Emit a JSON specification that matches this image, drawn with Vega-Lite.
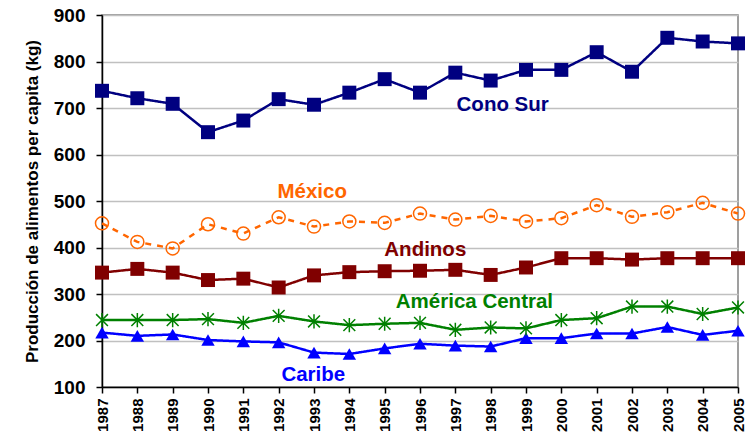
{
  "$schema": "https://vega.github.io/schema/vega-lite/v6.json",
  "width": 636,
  "height": 372,
  "autosize": "none",
  "padding": {"left": 102, "top": 15, "right": 14, "bottom": 49},
  "background": "white",
  "config": {
    "view": {"stroke": "#808080", "strokeWidth": 1.5},
    "font": "Liberation Sans"
  },
  "datasets": {
    "pts": [
      {"series": "Cono Sur", "year": 1987, "value": 737},
      {"series": "Cono Sur", "year": 1988, "value": 721},
      {"series": "Cono Sur", "year": 1989, "value": 709},
      {"series": "Cono Sur", "year": 1990, "value": 648},
      {"series": "Cono Sur", "year": 1991, "value": 673},
      {"series": "Cono Sur", "year": 1992, "value": 719},
      {"series": "Cono Sur", "year": 1993, "value": 707},
      {"series": "Cono Sur", "year": 1994, "value": 733},
      {"series": "Cono Sur", "year": 1995, "value": 762},
      {"series": "Cono Sur", "year": 1996, "value": 733},
      {"series": "Cono Sur", "year": 1997, "value": 776},
      {"series": "Cono Sur", "year": 1998, "value": 759},
      {"series": "Cono Sur", "year": 1999, "value": 782},
      {"series": "Cono Sur", "year": 2000, "value": 782},
      {"series": "Cono Sur", "year": 2001, "value": 820},
      {"series": "Cono Sur", "year": 2002, "value": 778},
      {"series": "Cono Sur", "year": 2003, "value": 851},
      {"series": "Cono Sur", "year": 2004, "value": 843},
      {"series": "Cono Sur", "year": 2005, "value": 839},
      {"series": "México", "year": 1987, "value": 452},
      {"series": "México", "year": 1988, "value": 412},
      {"series": "México", "year": 1989, "value": 398},
      {"series": "México", "year": 1990, "value": 450},
      {"series": "México", "year": 1991, "value": 430},
      {"series": "México", "year": 1992, "value": 465},
      {"series": "México", "year": 1993, "value": 445},
      {"series": "México", "year": 1994, "value": 456},
      {"series": "México", "year": 1995, "value": 453},
      {"series": "México", "year": 1996, "value": 473},
      {"series": "México", "year": 1997, "value": 460},
      {"series": "México", "year": 1998, "value": 468},
      {"series": "México", "year": 1999, "value": 456},
      {"series": "México", "year": 2000, "value": 463},
      {"series": "México", "year": 2001, "value": 491},
      {"series": "México", "year": 2002, "value": 466},
      {"series": "México", "year": 2003, "value": 476},
      {"series": "México", "year": 2004, "value": 496},
      {"series": "México", "year": 2005, "value": 473},
      {"series": "Andinos", "year": 1987, "value": 346},
      {"series": "Andinos", "year": 1988, "value": 354},
      {"series": "Andinos", "year": 1989, "value": 346},
      {"series": "Andinos", "year": 1990, "value": 330},
      {"series": "Andinos", "year": 1991, "value": 333},
      {"series": "Andinos", "year": 1992, "value": 314},
      {"series": "Andinos", "year": 1993, "value": 340},
      {"series": "Andinos", "year": 1994, "value": 347},
      {"series": "Andinos", "year": 1995, "value": 349},
      {"series": "Andinos", "year": 1996, "value": 350},
      {"series": "Andinos", "year": 1997, "value": 352},
      {"series": "Andinos", "year": 1998, "value": 341},
      {"series": "Andinos", "year": 1999, "value": 357},
      {"series": "Andinos", "year": 2000, "value": 377},
      {"series": "Andinos", "year": 2001, "value": 377},
      {"series": "Andinos", "year": 2002, "value": 374},
      {"series": "Andinos", "year": 2003, "value": 377},
      {"series": "Andinos", "year": 2004, "value": 377},
      {"series": "Andinos", "year": 2005, "value": 377},
      {"series": "América Central", "year": 1987, "value": 244},
      {"series": "América Central", "year": 1988, "value": 244},
      {"series": "América Central", "year": 1989, "value": 244},
      {"series": "América Central", "year": 1990, "value": 246},
      {"series": "América Central", "year": 1991, "value": 238},
      {"series": "América Central", "year": 1992, "value": 253},
      {"series": "América Central", "year": 1993, "value": 241},
      {"series": "América Central", "year": 1994, "value": 233},
      {"series": "América Central", "year": 1995, "value": 236},
      {"series": "América Central", "year": 1996, "value": 238},
      {"series": "América Central", "year": 1997, "value": 223},
      {"series": "América Central", "year": 1998, "value": 228},
      {"series": "América Central", "year": 1999, "value": 226},
      {"series": "América Central", "year": 2000, "value": 244},
      {"series": "América Central", "year": 2001, "value": 248},
      {"series": "América Central", "year": 2002, "value": 273},
      {"series": "América Central", "year": 2003, "value": 273},
      {"series": "América Central", "year": 2004, "value": 257},
      {"series": "América Central", "year": 2005, "value": 271},
      {"series": "Caribe", "year": 1987, "value": 217},
      {"series": "Caribe", "year": 1988, "value": 210},
      {"series": "Caribe", "year": 1989, "value": 213},
      {"series": "Caribe", "year": 1990, "value": 201},
      {"series": "Caribe", "year": 1991, "value": 198},
      {"series": "Caribe", "year": 1992, "value": 196},
      {"series": "Caribe", "year": 1993, "value": 174},
      {"series": "Caribe", "year": 1994, "value": 171},
      {"series": "Caribe", "year": 1995, "value": 183},
      {"series": "Caribe", "year": 1996, "value": 193},
      {"series": "Caribe", "year": 1997, "value": 189},
      {"series": "Caribe", "year": 1998, "value": 187},
      {"series": "Caribe", "year": 1999, "value": 205},
      {"series": "Caribe", "year": 2000, "value": 205},
      {"series": "Caribe", "year": 2001, "value": 215},
      {"series": "Caribe", "year": 2002, "value": 215},
      {"series": "Caribe", "year": 2003, "value": 229},
      {"series": "Caribe", "year": 2004, "value": 212},
      {"series": "Caribe", "year": 2005, "value": 221}
    ],
    "labels": [
      {"series": "Cono Sur", "year": 1998.34, "value": 707},
      {"series": "México", "year": 1992.95, "value": 520},
      {"series": "Andinos", "year": 1996.15, "value": 394},
      {"series": "América Central", "year": 1997.54, "value": 283},
      {"series": "Caribe", "year": 1992.98, "value": 126}
    ]
  },
  "encoding": {
    "x": {
      "field": "year", "type": "quantitative",
      "scale": {"domain": [1987, 2005], "nice": false, "zero": false},
      "axis": {
        "values": [1987,1988,1989,1990,1991,1992,1993,1994,1995,1996,1997,1998,1999,2000,2001,2002,2003,2004,2005],
        "format": "d", "labelAngle": -90, "grid": false, "title": null,
        "labelFont": "Liberation Sans", "labelFontWeight": "bold", "labelFontSize": 15, "labelColor": "black",
        "labelPadding": 5, "tickSize": 6, "tickColor": "black", "tickWidth": 1.5,
        "domainColor": "black", "domainWidth": 1.5, "labelOverlap": false
      }
    },
    "y": {
      "field": "value", "type": "quantitative",
      "scale": {"domain": [100, 900], "nice": false, "zero": false},
      "axis": {
        "values": [100,200,300,400,500,600,700,800,900],
        "grid": true, "gridColor": "#c0c0c0", "gridWidth": 1.5,
        "title": "Producción de alimentos per capita (kg)",
        "titleFont": "Liberation Sans", "titleFontWeight": "bold", "titleFontSize": 17, "titleColor": "black",
        "titlePadding": 12,
        "labelFont": "Liberation Sans", "labelFontWeight": "bold", "labelFontSize": 19, "labelColor": "black",
        "labelPadding": 11, "tickSize": 6, "tickColor": "black", "tickWidth": 1.5,
        "domainColor": "black", "domainWidth": 1.5
      }
    },
    "color": {
      "field": "series", "type": "nominal", "legend": null,
      "scale": {
        "domain": ["Cono Sur", "México", "Andinos", "América Central", "Caribe"],
        "range": ["#000080", "#FF6600", "#800000", "#008000", "#0000FF"]
      }
    }
  },
  "layer": [
    {
      "data": {"name": "pts"},
      "mark": {"type": "line", "strokeWidth": 2.5},
      "encoding": {
        "strokeDash": {
          "field": "series", "type": "nominal", "legend": null,
          "scale": {
            "domain": ["Cono Sur", "México", "Andinos", "América Central", "Caribe"],
            "range": [[1, 0], [6, 6], [1, 0], [1, 0], [1, 0]]
          }
        }
      }
    },
    {
      "data": {"name": "pts"},
      "transform": [{"filter": "datum.series === 'Cono Sur' || datum.series === 'Andinos'"}],
      "mark": {"type": "point", "shape": "square", "filled": true, "opacity": 1, "size": 195}
    },
    {
      "data": {"name": "pts"},
      "transform": [{"filter": "datum.series === 'Caribe'"}],
      "mark": {"type": "point", "shape": "triangle-up", "filled": true, "opacity": 1, "size": 180}
    },
    {
      "data": {"name": "pts"},
      "transform": [{"filter": "datum.series === 'México'"}],
      "mark": {"type": "point", "shape": "circle", "filled": false, "opacity": 1, "size": 170, "strokeWidth": 1.5}
    },
    {
      "data": {"name": "pts"},
      "transform": [{"filter": "datum.series === 'América Central'"}],
      "mark": {"type": "point", "shape": "M-1,-1L1,1M-1,1L1,-1M0,-1.2L0,1.2", "filled": false, "opacity": 1, "size": 140, "strokeWidth": 1.5}
    },
    {
      "data": {"name": "labels"},
      "mark": {"type": "text", "font": "Liberation Sans", "fontWeight": "bold", "fontSize": 20.5, "align": "center", "baseline": "middle"},
      "encoding": {"text": {"field": "series", "type": "nominal"}}
    }
  ]
}
